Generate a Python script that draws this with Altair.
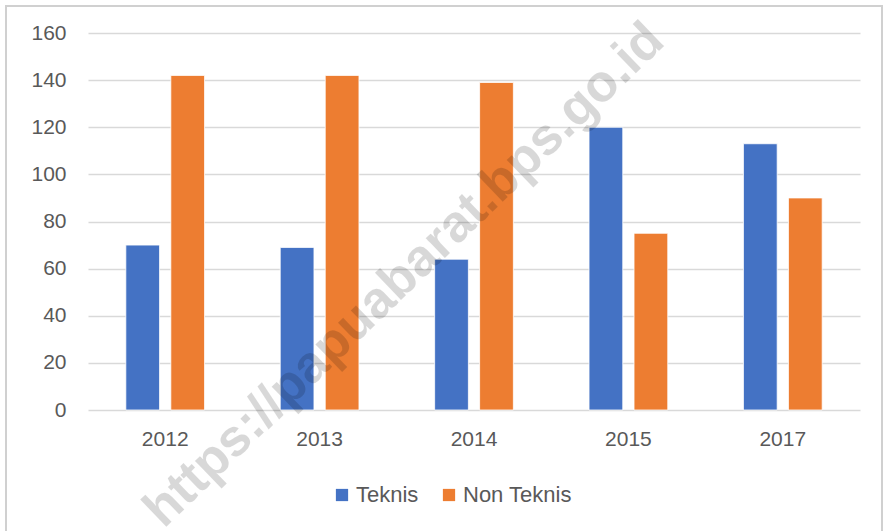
import altair as alt
import pandas as pd

years = ["2012", "2013", "2014", "2015", "2017"]
teknis = [70, 69, 64, 120, 113]
non_teknis = [142, 142, 139, 75, 90]
series = ["Teknis", "Non Teknis"]
colors = ["#4472C4", "#ED7D31"]
y_ticks = [0, 20, 40, 60, 80, 100, 120, 140, 160]
watermark = "https://papuabarat.bps.go.id"

rows = []
for i, y in enumerate(years):
    rows.append({"Tahun": y, "Kategori": series[0], "Nilai": teknis[i]})
    rows.append({"Tahun": y, "Kategori": series[1], "Nilai": non_teknis[i]})
df = pd.DataFrame(rows)

FONT = "Liberation Sans"
GRAY = "#595959"

bars = alt.Chart(df).mark_bar(stroke="white", strokeWidth=0.8).encode(
    x=alt.X("Tahun:N", sort=years, title=None,
            scale=alt.Scale(paddingInner=0.49, paddingOuter=0.245),
            axis=alt.Axis(labelAngle=0, labelPadding=18, domain=False, ticks=False,
                          grid=False,
                          labelFontSize=21, labelColor=GRAY, labelFont=FONT)),
    xOffset=alt.XOffset("Kategori:N", sort=series,
                        scale=alt.Scale(paddingInner=0.25, paddingOuter=0)),
    y=alt.Y("Nilai:Q", title=None,
            scale=alt.Scale(domain=[0, 160], nice=False),
            axis=alt.Axis(values=y_ticks, domain=False, ticks=False, labelPadding=22,
                          gridColor="#d9d9d9", gridWidth=1.5,
                          labelFontSize=21, labelColor=GRAY, labelFont=FONT)),
    color=alt.Color("Kategori:N", sort=series, title=None,
                    scale=alt.Scale(domain=series, range=colors),
                    legend=alt.Legend(orient="none", legendX=243, legendY=451,
                                      direction="horizontal", symbolType="square",
                                      symbolSize=150, symbolStrokeWidth=0,
                                      labelFontSize=22, labelColor=GRAY, labelFont=FONT,
                                      labelOffset=3, columnPadding=19)),
)

frame = alt.Chart(pd.DataFrame({"a": [0]})).mark_rect(
    fill=None, stroke="#d0d0d0", strokeWidth=2
).encode(x=alt.value(-82), x2=alt.value(794), y=alt.value(-27), y2=alt.value(510))

wm = alt.Chart(pd.DataFrame({"t": [watermark]})).mark_text(
    fontSize=52, fontWeight="bold", font=FONT, angle=316,
    align="center", baseline="middle", color="black", opacity=0.15
).encode(text="t:N", x=alt.value(316), y=alt.value(242))

chart = alt.layer(bars, wm, frame).properties(
    width=772, height=377,
    autosize=alt.AutoSizeParams(type="none"),
    padding={"left": 88, "top": 33, "right": 27, "bottom": 121},
).configure(background="white").configure_view(strokeWidth=0, stroke="transparent")

chart.save("out.html", embed_options={"renderer": "svg", "actions": False})
